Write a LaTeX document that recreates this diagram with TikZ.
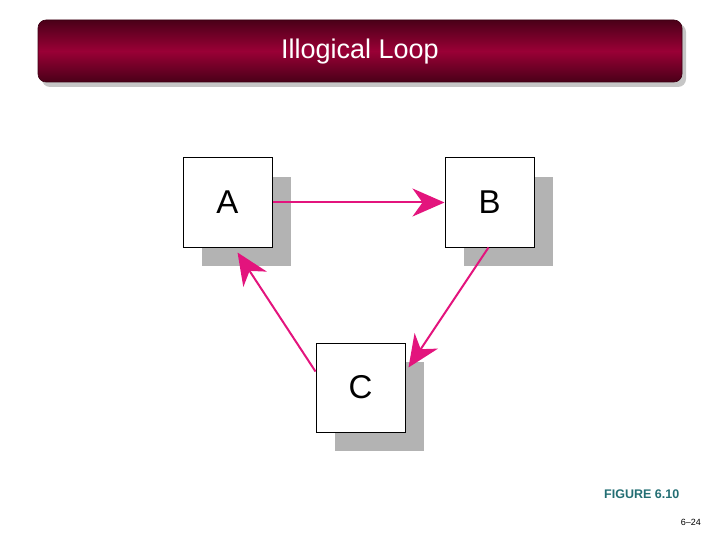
\documentclass[tikz,border=0pt]{standalone}
\usepackage{fontspec}
\setmainfont{Liberation Sans}
\usetikzlibrary{arrows.meta}
\definecolor{pinkline}{HTML}{E3147D}
\definecolor{barmid}{HTML}{9A0036}
\definecolor{baredge}{HTML}{4A0018}
\definecolor{shadowgray}{HTML}{B3B3B3}
\definecolor{figteal}{HTML}{236E73}
\tikzset{
  shadowbox/.style={fill=shadowgray, minimum size=89, inner sep=0},
  letterbox/.style={draw=black, line width=1, fill=white, minimum size=89, inner sep=0, font=\fontsize{33}{36}\selectfont},
  conn/.style={draw=pinkline, line width=2, -{Stealth[length=32, width=28, inset=10]}}
}
\begin{document}
\begin{tikzpicture}[x=1pt,y=-1pt]
\useasboundingbox (0,0) rectangle (720,540);
% title bar
\fill[gray!45, rounded corners=8] (42,24) rectangle (686,87);
\shade[top color=baredge, bottom color=baredge, middle color=barmid, rounded corners=8] (38,20) rectangle (682,82);
\draw[baredge!80!black, rounded corners=8, line width=0.6] (38,20) rectangle (682,82);
\node[text=white, font=\fontsize{27}{30}\selectfont] (title) at (360,52) {Illogical Loop};
% shadows
\node[shadowbox] (As) at (246.5,221.5) {};
\node[shadowbox] (Bs) at (508.5,221.5) {};
\node[shadowbox] (Cs) at (379.5,406.5) {};
% boxes
\node[letterbox] (A) at (227.5,202.5) {A};
\node[letterbox] (B) at (489.5,202.5) {B};
\node[letterbox] (C) at (360.5,387.5) {C};
% connectors
\draw[conn] (A.east) -- (B.west);
\draw[conn] ([shift={(-1,0)}]B.south) -- ([shift={(3,25)}]C.north east);
\draw[conn] ([shift={(0,29)}]C.north west) -- ([shift={(10,5)}]A.south);
% labels
\node[anchor=west, text=figteal, font=\bfseries\fontsize{12.5}{14}\selectfont, inner sep=0] (fig) at (604,494) {FIGURE 6.10};
\node[anchor=east, font=\fontsize{9}{10}\selectfont, inner sep=0] (pg) at (701,522) {6–24};
\end{tikzpicture}
\end{document}
